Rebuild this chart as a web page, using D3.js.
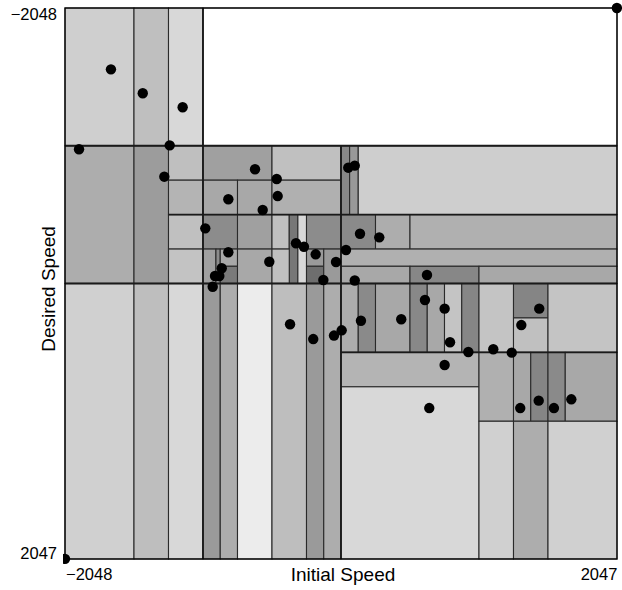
<!DOCTYPE html>
<html><head><meta charset="utf-8">
<script src="https://cdn.jsdelivr.net/npm/d3@7"></script>
<style>
body{margin:0;background:#fff;}
text{font-family:"Liberation Sans",Arial,sans-serif;fill:#000;}
</style></head>
<body><svg id="chart" width="622" height="590"></svg>
<script>
// ---- data (data units, domain -2048..2048) ----
const xTicks = [-2048, 2047];
const yTicks = [-2048, 2047];
const xTitle = "Initial Speed";
const yTitle = "Desired Speed";

// leaf cells: [x0, x1, y0, y1, tone(0-255 gray)]
const cells = [
  [-2048,-1536,-2048,-1024,207],[-2048,-1536,-1024,0,173],[-2048,-1536,0,2048,208],
  [-1536,-1280,-2048,-1024,191],[-1536,-1280,-1024,0,156],[-1536,-1280,0,2048,190],
  [-1280,-1024,-2048,-1024,216],[-1280,-1024,-1024,-768,191],[-1280,-1024,-768,-512,180],
  [-1280,-1024,-512,-256,192],[-1280,-1024,-256,0,195],[-1280,-1024,0,2048,216],
  [-1024,2048,-2048,-1024,255],
  [-1024,-512,-1024,-768,160],[-512,0,-1024,-768,192],
  [-1024,-768,-768,-512,168],[-768,-512,-768,-512,168],[-512,0,-768,-512,176],
  [0,64,-1024,-512,136],[64,128,-1024,-512,153],[128,2048,-1024,-512,206],
  [-1024,-768,-512,-256,140],[-768,-512,-512,-256,160],[-512,-384,-512,-256,192],
  [-384,-320,-512,0,119],[-320,-256,-512,0,216],[-256,0,-512,-256,140],
  [0,256,-512,-256,138],[256,512,-512,-256,173],[512,2048,-512,-256,176],
  [-1024,-928,-256,0,160],[-928,-896,-256,0,140],[-896,-768,-256,-128,168],[-896,-768,-128,0,122],
  [-768,-512,-256,0,168],[-512,-384,-256,0,192],
  [-256,-128,-256,-128,154],[-256,-128,-128,0,110],[-128,0,-256,0,154],
  [0,2048,-256,-128,176],[0,512,-128,0,168],[512,1024,-128,0,135],[1024,2048,-128,0,168],
  [-1024,-896,0,2048,154],[-896,-768,0,2048,173],[-768,-512,0,2048,236],
  [-512,-256,0,2048,190],[-256,-128,0,2048,154],[-128,0,0,2048,173],
  [0,128,0,512,173],[128,256,0,512,138],[256,512,0,512,168],[512,640,0,512,136],
  [640,768,0,512,168],[768,896,0,512,196],[896,1024,0,512,134],[1024,1280,0,512,196],
  [1280,1536,0,256,133],[1280,1536,256,512,192],[1536,2048,0,512,196],
  [0,1024,512,768,180],[0,1024,768,2048,216],
  [1024,1280,512,1024,176],[1280,1408,512,1024,168],[1408,1536,512,1024,133],
  [1536,1664,512,1024,138],[1664,2048,512,1024,168],
  [1024,1280,1024,2048,208],[1280,1536,1024,2048,173],[1536,2048,1024,2048,208]
];

// major split lines: [x0, x1, y0, y1]
const majorSplits = [
  [-1024,-1024,-2048,2048],[-2048,2048,-1024,-1024],[-2048,2048,0,0],
  [-1280,2048,-512,-512],[0,0,-1024,2048],[0,2048,512,512]
];

const pointsX = [-1707,-1471,-1175,-1944,-1271,-1311,-638,-477,-836,-470,-581,-1007,54,102,
  -836,-885,-935,-903,-952,-532,-334,-275,-188,-37,37,141,284,-131,102,638,623,769,148,447,
  5,-52,809,945,1130,1267,1471,1338,769,655,1330,1467,1580,1709,-378,-206,2047,-2048];
const pointsY = [-1592,-1414,-1310,-998,-1027,-794,-849,-777,-626,-650,-546,-410,-861,-876,
  -232,-113,-56,-56,24,-162,-299,-273,-217,-160,-249,-370,-343,-26,-22,-63,123,187,277,266,
  348,387,437,509,489,514,187,309,606,926,926,871,926,861,303,413,-2048,2047];

// ---- drawing ----
const svg = d3.select("#chart");
const x = d3.scaleLinear().domain([-2048, 2048]).range([65, 617]);
const y = d3.scaleLinear().domain([-2048, 2048]).range([8, 559]);

svg.append("defs").append("clipPath").attr("id","pclip")
  .append("rect").attr("x",63).attr("y",0).attr("width",559).attr("height",590);

const g = svg.append("g");
g.selectAll("rect.cell").data(cells).join("rect")
  .attr("class","cell")
  .attr("x", d => x(d[0])).attr("y", d => y(d[2]))
  .attr("width", d => x(d[1]) - x(d[0])).attr("height", d => y(d[3]) - y(d[2]))
  .attr("fill", d => d3.rgb(d[4], d[4], d[4]))
  .attr("stroke", "#2a2a2a").attr("stroke-width", 1.1);

g.selectAll("line.split").data(majorSplits).join("line")
  .attr("x1", d => x(d[0])).attr("x2", d => x(d[1]))
  .attr("y1", d => y(d[2])).attr("y2", d => y(d[3]))
  .attr("stroke", "#1a1a1a").attr("stroke-width", 1.8);

g.append("rect").attr("x", x(-2048)).attr("y", y(-2048))
  .attr("width", x(2048)-x(-2048)).attr("height", y(2048)-y(-2048))
  .attr("fill","none").attr("stroke","#000").attr("stroke-width",1.2);

svg.append("g").attr("clip-path","url(#pclip)")
  .selectAll("circle").data(pointsX).join("circle")
  .attr("cx", (d,i) => x(pointsX[i])).attr("cy", (d,i) => y(pointsY[i]))
  .attr("r", 5.2).attr("fill", "#000");

const fmt = v => String(v).replace("-", "\u2212");
// x tick labels
svg.append("text").attr("x", x(xTicks[0]) + 1).attr("y", 580)
  .attr("font-size", 16.5).attr("text-anchor","start").text(fmt(xTicks[0]));
svg.append("text").attr("x", x(xTicks[1]) + 0.5).attr("y", 580)
  .attr("font-size", 16.5).attr("text-anchor","end").text(fmt(xTicks[1]));
// y tick labels
svg.append("text").attr("x", 57).attr("y", y(yTicks[0]) + 12)
  .attr("font-size", 16.5).attr("text-anchor","end").text(fmt(yTicks[0]));
svg.append("text").attr("x", 57).attr("y", y(yTicks[1]))
  .attr("font-size", 16.5).attr("text-anchor","end").text(fmt(yTicks[1]));
// titles
svg.append("text").attr("x", 343).attr("y", 581)
  .attr("font-size", 19).attr("text-anchor","middle").text(xTitle);
svg.append("text").attr("transform","translate(55,289) rotate(-90)")
  .attr("font-size", 19).attr("text-anchor","middle").text(yTitle);
</script></body></html>
